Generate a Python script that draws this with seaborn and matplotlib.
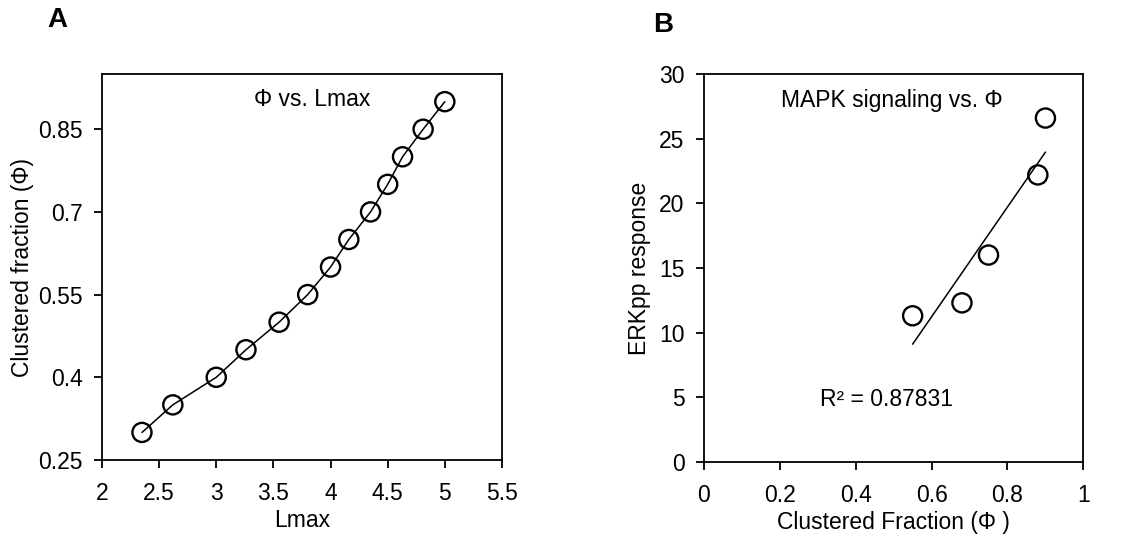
import pandas as pd
import matplotlib
matplotlib.use('Agg')
import matplotlib.pyplot as plt
import seaborn as sns

# Panel A: clustered fraction vs Lmax
lmax = [2.35, 2.62, 3.0, 3.26, 3.55, 3.8, 4.0, 4.16, 4.35, 4.5, 4.63, 4.81, 5.0]
phi = [0.30, 0.35, 0.40, 0.45, 0.50, 0.55, 0.60, 0.65, 0.70, 0.75, 0.80, 0.85, 0.90]

# Panel B: ERKpp response vs clustered fraction
frac = [0.55, 0.68, 0.75, 0.88, 0.90]
erkpp = [11.3, 12.3, 16.0, 22.2, 26.6]

df_a = pd.DataFrame({'Lmax': lmax, 'phi': phi})
df_b = pd.DataFrame({'frac': frac, 'erkpp': erkpp})

sns.set_style('white')
plt.rcParams['font.family'] = ['Liberation Sans', 'DejaVu Sans']
plt.rcParams['font.size'] = 16.5
for k in ('text.color', 'axes.labelcolor', 'xtick.color', 'ytick.color'):
    plt.rcParams[k] = 'black'

fig = plt.figure(figsize=(11.38, 5.37), dpi=100)
ax1 = fig.add_axes([0.0896, 0.1434, 0.3515, 0.7186])
ax2 = fig.add_axes([0.6186, 0.140, 0.3334, 0.722])

# A
sns.lineplot(data=df_a, x='Lmax', y='phi', color='black', lw=1.1, ax=ax1)
sns.scatterplot(data=df_a, x='Lmax', y='phi', marker='o', s=190,
                facecolor='none', edgecolor='black', linewidth=1.7, ax=ax1, zorder=3)
ax1.set_xlim(2, 5.5)
ax1.set_ylim(0.25, 0.95)
ax1.set_xticks([2, 2.5, 3, 3.5, 4, 4.5, 5, 5.5])
ax1.set_xticklabels(['2', '2.5', '3', '3.5', '4', '4.5', '5', '5.5'])
ax1.set_yticks([0.25, 0.4, 0.55, 0.7, 0.85])
ax1.set_yticklabels(['0.25', '0.4', '0.55', '0.7', '0.85'])
ax1.set_xlabel('Lmax', labelpad=3)
ax1.set_ylabel('Clustered fraction (Φ)', labelpad=3)
ax1.text(0.525, 0.933, 'Φ vs. Lmax', transform=ax1.transAxes, ha='center', va='center')

# B
sns.regplot(data=df_b, x='frac', y='erkpp', ci=None, scatter=False,
            line_kws={'color': 'black', 'lw': 1.1}, ax=ax2)
sns.scatterplot(data=df_b, x='frac', y='erkpp', marker='o', s=190,
                facecolor='none', edgecolor='black', linewidth=1.7, ax=ax2, zorder=3)
ax2.set_xlim(0, 1)
ax2.set_ylim(0, 30)
ax2.set_xticks([0, 0.2, 0.4, 0.6, 0.8, 1])
ax2.set_xticklabels(['0', '0.2', '0.4', '0.6', '0.8', '1'])
ax2.set_yticks([0, 5, 10, 15, 20, 25, 30])
ax2.set_xlabel('Clustered Fraction (Φ )', labelpad=3)
ax2.set_ylabel('ERKpp response', labelpad=6)
ax2.text(0.495, 0.933, 'MAPK signaling vs. Φ', transform=ax2.transAxes, ha='center', va='center')
ax2.text(0.482, 0.161, 'R² = 0.87831', transform=ax2.transAxes, ha='center', va='center')

for ax in (ax1, ax2):
    for sp in ax.spines.values():
        sp.set_color('black')
        sp.set_linewidth(1.3)
    ax.tick_params(axis='both', which='both', direction='out', length=6, width=1.3,
                   color='black', labelcolor='black', bottom=True, left=True,
                   top=False, right=False, pad=8)
    ax.tick_params(axis='x', pad=10)

fig.text(0.05, 0.963, 'A', fontsize=20, fontweight='bold', ha='center', va='center')
fig.text(0.583, 0.953, 'B', fontsize=20, fontweight='bold', ha='center', va='center')

fig.savefig('out.png', dpi=100)
